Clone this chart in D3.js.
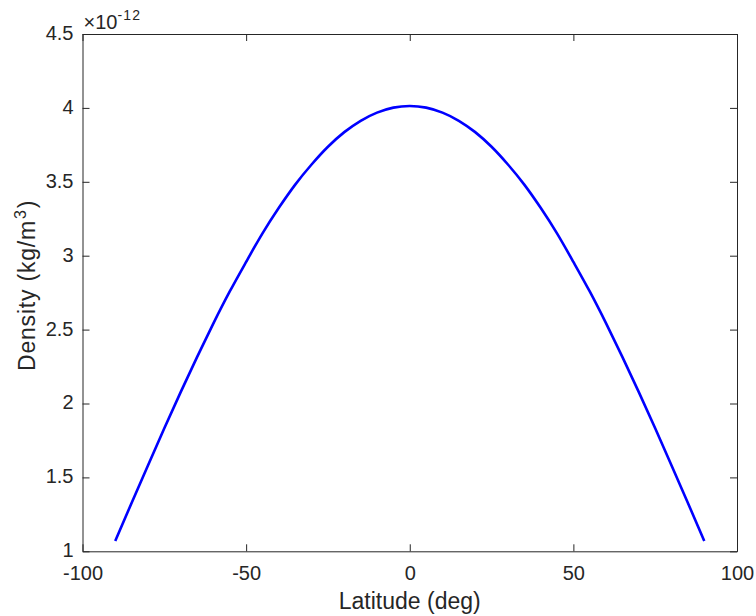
<!DOCTYPE html>
<html>
<head>
<meta charset="utf-8">
<script src="https://cdn.jsdelivr.net/npm/d3@7"></script>
<style>
  html, body { margin: 0; padding: 0; background: #fff; }
  svg { display: block; }
  text { font-family: "Liberation Sans", Arial, Helvetica, sans-serif; fill: #262626; }
</style>
</head>
<body>
<svg id="chart" width="756" height="616"></svg>
<script>
// Atmospheric density versus latitude (units of 1e-12 kg/m^3)
const latitude = [-90, -85, -80, -75, -70, -65, -60, -55, -50, -45, -40, -35, -30, -25, -20, -15, -10, -5,
                  0, 5, 10, 15, 20, 25, 30, 35, 40, 45, 50, 55, 60, 65, 70, 75, 80, 85, 90];
const density = [1.070, 1.327, 1.581, 1.832, 2.077, 2.314, 2.542, 2.758, 2.958, 3.151, 3.324, 3.481, 3.617, 3.737, 3.836, 3.913, 3.968, 4.002,
                 4.013, 4.002, 3.968, 3.913, 3.836, 3.737, 3.617, 3.481, 3.324, 3.151, 2.958, 2.758, 2.542, 2.314, 2.077, 1.832, 1.581, 1.327, 1.070];
const xTicks = [-100, -50, 0, 50, 100];
const yTicks = [1, 1.5, 2, 2.5, 3, 3.5, 4, 4.5];

const svg = d3.select("#chart");
const margin = { left: 82.5, right: 19, top: 34, bottom: 64.7 };
const W = 756, H = 616;
const x = d3.scaleLinear().domain([-100, 100]).range([margin.left, W - margin.right]);
const y = d3.scaleLinear().domain([1, 4.5]).range([H - margin.bottom, margin.top]);

const axisColor = "#262626";
const tickLen = 7;

// data curve
const line = d3.line().x((d, i) => x(latitude[i])).y(d => y(d)).curve(d3.curveNatural);
svg.append("path")
  .datum(density)
  .attr("d", line)
  .attr("fill", "none")
  .attr("stroke", "#0000ff")
  .attr("stroke-width", 2.6);

// axes (ticks point inward, mirrored on top and right)
function styleAxis(g) {
  g.selectAll("path.domain").attr("stroke", axisColor).attr("stroke-width", 1);
  g.selectAll(".tick line").attr("stroke", axisColor).attr("stroke-width", 1);
  g.selectAll(".tick text").style("font-size", "20px").attr("fill", axisColor).attr("font-family", null);
}

svg.append("g")
  .attr("transform", `translate(0,${y(1)})`)
  .call(d3.axisBottom(x).tickValues(xTicks).tickSizeInner(-tickLen).tickSizeOuter(0).tickPadding(15).tickFormat(d => String(d)))
  .call(styleAxis);

svg.append("g")
  .attr("transform", `translate(0,${y(4.5)})`)
  .call(d3.axisTop(x).tickValues(xTicks).tickSizeInner(-tickLen).tickSizeOuter(0).tickFormat(""))
  .call(styleAxis);

svg.append("g")
  .attr("transform", `translate(${x(-100)},0)`)
  .call(d3.axisLeft(y).tickValues(yTicks).tickSizeInner(-tickLen).tickSizeOuter(0).tickPadding(9).tickFormat(d => String(d)))
  .call(styleAxis)
  .call(g => g.selectAll(".tick text").attr("dy", "0.27em"));

svg.append("g")
  .attr("transform", `translate(${x(100)},0)`)
  .call(d3.axisRight(y).tickValues(yTicks).tickSizeInner(-tickLen).tickSizeOuter(0).tickFormat(""))
  .call(styleAxis);

// exponent marker above the y axis
const ex = svg.append("text")
  .attr("x", x(-100) + 1)
  .attr("y", 29)
  .style("font-size", "20px");
ex.append("tspan").text("\u00d710");
ex.append("tspan").attr("dy", -9).style("font-size", "14px").style("letter-spacing", "1.2px").text("-12");

// axis titles
svg.append("text")
  .attr("x", x(0))
  .attr("y", 608.5)
  .attr("text-anchor", "middle")
  .style("font-size", "23px")
  .text("Latitude (deg)");

const yl = svg.append("text")
  .attr("transform", `translate(35,371) rotate(-90)`)
  .attr("text-anchor", "start")
  .style("font-size", "23px")
  .style("letter-spacing", "0.8px");
yl.append("tspan").text("Density (kg/m");
yl.append("tspan").attr("dy", -9).attr("dx", 1).style("font-size", "16px").text("3");
yl.append("tspan").attr("dy", 9).attr("dx", 1).text(")");
</script>
</body>
</html>
